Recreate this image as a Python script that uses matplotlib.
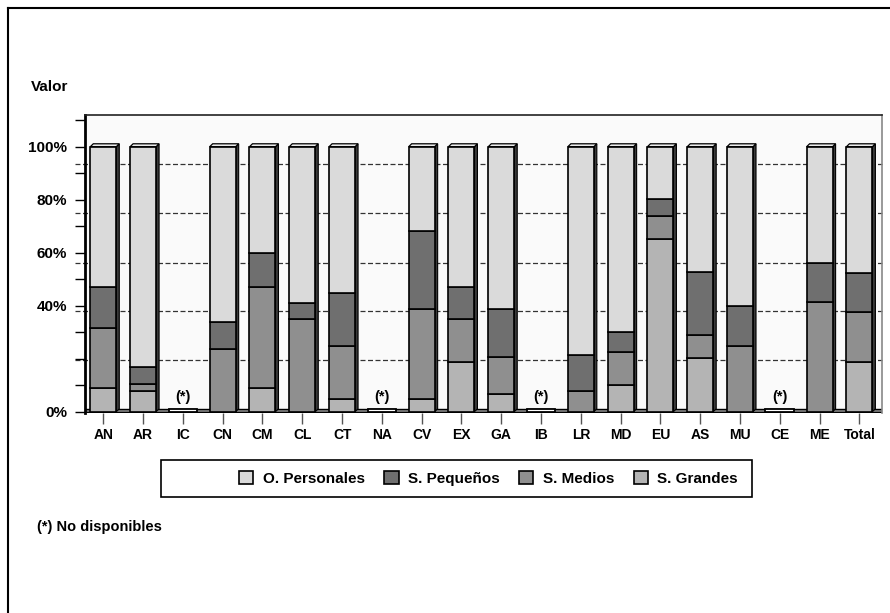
import numpy as np
import matplotlib
matplotlib.use("Agg")
import matplotlib.pyplot as plt
from matplotlib.patches import Rectangle, Polygon
from matplotlib.lines import Line2D

plt.rcParams['font.family'] = ['Liberation Sans', 'DejaVu Sans']
plt.rcParams['font.weight'] = 'bold'

categories = ["AN", "AR", "IC", "CN", "CM", "CL", "CT", "NA", "CV", "EX",
              "GA", "IB", "LR", "MD", "EU", "AS", "MU", "CE", "ME", "Total"]
nan = np.nan
s_grandes = [8.8, 7.8, nan, 0.0, 8.8, 0.0, 4.8, nan, 4.8, 18.9,
             6.6, nan, 0.0, 10.0, 65.0, 20.1, 0.0, nan, 0.0, 18.6]
s_medios = [22.9, 2.7, nan, 23.5, 38.4, 34.9, 20.1, nan, 34.0, 16.0,
            13.9, nan, 7.8, 12.6, 8.8, 8.7, 24.9, nan, 41.5, 19.1]
s_pequenos = [15.5, 6.3, nan, 10.2, 12.8, 6.2, 20.0, nan, 29.4, 12.3,
              18.3, nan, 13.7, 7.6, 6.3, 23.9, 15.0, nan, 14.5, 14.6]
o_personales = [52.8, 83.2, nan, 66.3, 40.0, 58.9, 55.1, nan, 31.8, 52.8,
                61.2, nan, 78.5, 69.8, 19.9, 47.3, 60.1, nan, 44.0, 47.7]
ytick_vals = [0, 40, 60, 80, 100]
ytick_labels = ["0%", "40%", "60%", "80%", "100%"]

col_pers = '#dadada'
col_peq = '#6f6f6f'
col_med = '#8f8f8f'
col_gra = '#b4b4b4'

W, H = 890, 613
fig = plt.figure(figsize=(W / 100, H / 100), dpi=100)
fig.patch.set_facecolor('white')

ax_left, ax_right = 85 / W, 881.7 / W
ymin, ymax = -0.6, 112
y0px = 411.7
pxper = 2.65
top_px = y0px - ymax * pxper
bot_px = y0px - ymin * pxper
ax = fig.add_axes([ax_left, 1 - bot_px / H, ax_right - ax_left, (bot_px - top_px) / H])
ax.set_facecolor('#fafafa')

x = np.arange(len(categories))
ax.set_xlim(-0.46, len(categories) - 0.44)
ax.set_ylim(ymin, ymax)

bw = 0.653
dx, dy = 0.075, 1.1

g = np.array(s_grandes, dtype=float)
m = np.array(s_medios, dtype=float)
p = np.array(s_pequenos, dtype=float)
o = np.array(o_personales, dtype=float)
valid = ~np.isnan(g)

# gridlines (back wall)
for gy in [19.5, 38.0, 56.1, 74.9, 93.5]:
    ax.plot([-0.012, 1], [gy, gy], transform=ax.get_yaxis_transform(),
            color='#333333', lw=0.9, ls=(0, (4, 2)), zorder=0.5, clip_on=False)

# floor
ax.add_patch(Rectangle((ax.get_xlim()[0], 0), ax.get_xlim()[1] - ax.get_xlim()[0], 1.2,
                       facecolor='#8a8a8a', edgecolor='black', lw=1.0, zorder=0.8))

# 3D sides and tops
for xi, ok, tot in zip(x, valid, g + m + p + o):
    if not ok:
        continue
    x0, x1 = xi - bw / 2, xi + bw / 2
    ax.add_patch(Polygon([(x1, 0), (x1 + dx, dy), (x1 + dx, tot + dy), (x1, tot)],
                         closed=True, facecolor='#3a3a3a', edgecolor='black', lw=0.8, zorder=1.5))
    ax.add_patch(Polygon([(x0, tot), (x0 + dx, tot + dy), (x1 + dx, tot + dy), (x1, tot)],
                         closed=True, facecolor='#ececec', edgecolor='black', lw=0.9, zorder=1.5))

gv = np.where(valid, g, 0)
mv = np.where(valid, m, 0)
pv = np.where(valid, p, 0)
ov = np.where(valid, o, 0)
xv = x[valid]
kw = dict(width=bw, edgecolor='black', linewidth=1.2, zorder=2)
b_gra = ax.bar(xv, gv[valid], color=col_gra, label='S. Grandes', **kw)
b_med = ax.bar(xv, mv[valid], bottom=gv[valid], color=col_med, label='S. Medios', **kw)
b_peq = ax.bar(xv, pv[valid], bottom=(gv + mv)[valid], color=col_peq, label='S. Pequeños', **kw)
b_per = ax.bar(xv, ov[valid], bottom=(gv + mv + pv)[valid], color=col_pers, label='O. Personales', **kw)

# not available placeholders
for xi, ok in zip(x, valid):
    if ok:
        continue
    ax.add_patch(Rectangle((xi - 0.36, 0), 0.72, 0.9, facecolor='white',
                           edgecolor='black', lw=1.3, zorder=2))
    ax.text(xi, 5.7, "(*)", ha='center', va='center', fontsize=10.5, fontweight='bold', zorder=3)

# axes styling
ax.set_yticks(np.arange(0, 111, 10), minor=True)
ax.set_yticks(ytick_vals)
ax.set_yticklabels(ytick_labels, fontsize=11, fontweight='bold')
ax.tick_params(axis='y', which='both', direction='out', length=7, width=1.0, color='black', pad=6)
ax.set_xticks(x)
ax.set_xticklabels(categories, fontsize=10, fontweight='bold')
ax.tick_params(axis='x', direction='out', length=8, width=1.0, color='#555555', pad=2.5)

ax.spines['left'].set_linewidth(2.0)
ax.spines['left'].set_color('black')
ax.spines['top'].set_linestyle((0, (1, 1)))
ax.spines['top'].set_color('#222222')
ax.spines['top'].set_linewidth(1.2)
ax.spines['right'].set_color('#888888')
ax.spines['right'].set_linewidth(1.2)
ax.spines['bottom'].set_visible(False)

# Y title
fig.text(31 / W, 1 - 87 / H, "Valor", fontsize=11, fontweight='bold', ha='left', va='center')

# legend box
fig.add_artist(Rectangle((161 / W, 1 - 497 / H), (752 - 161) / W, 37 / H,
                         transform=fig.transFigure, fill=False, edgecolor='black', lw=1.2))
leg = fig.legend(handles=[b_per, b_peq, b_med, b_gra],
                 labels=['O. Personales', 'S. Pequeños', 'S. Medios', 'S. Grandes'],
                 loc='center', bbox_to_anchor=(488.5 / W, 1 - 478.5 / H), ncol=4, frameon=False,
                 prop={'size': 11, 'weight': 'bold'}, handlelength=0.92, handleheight=0.92,
                 handletextpad=0.6, columnspacing=1.3, borderpad=0.2)

fig.text(37 / W, 1 - 527 / H, "(*) No disponibles", fontsize=10.5, fontweight='bold',
         ha='left', va='center')

# outer frame
fig.add_artist(Line2D([8 / W, 8 / W], [0, 1 - 7.5 / H], transform=fig.transFigure, color='black', lw=1.5))
fig.add_artist(Line2D([8 / W, 1], [1 - 7.5 / H, 1 - 7.5 / H], transform=fig.transFigure, color='black', lw=1.5))

fig.savefig("out.png", dpi=100)
